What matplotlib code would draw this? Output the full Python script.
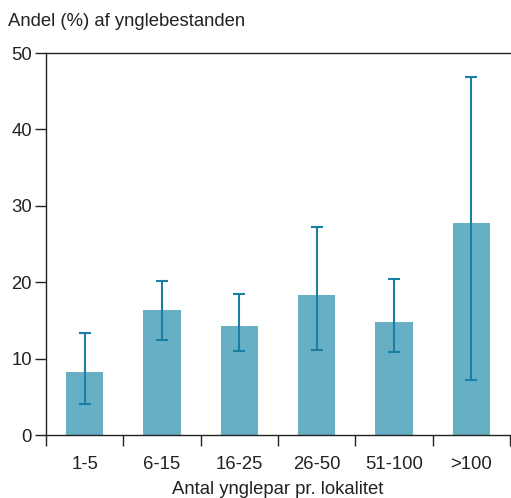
import matplotlib
matplotlib.use("Agg")
import matplotlib.pyplot as plt
import numpy as np

plt.rcParams['font.family'] = ['Liberation Sans', 'DejaVu Sans']

# data
categories = ['1-5', '6-15', '16-25', '26-50', '51-100', '>100']
andel = [8.2, 16.4, 14.3, 18.3, 14.8, 27.7]
err_high = [13.3, 20.2, 18.4, 27.2, 20.4, 46.9]
err_low = [4.0, 12.4, 11.0, 11.1, 10.8, 7.2]

bar_color = '#67afc4'
err_color = '#1a80a3'
axis_color = '#222222'
fs = 13.3

fig = plt.figure(figsize=(5.11, 4.98), dpi=100)
ax = fig.add_axes([0.09, 0.1265, 0.908, 0.767])

x = np.arange(len(categories))
ax.bar(x, andel, width=0.48, color=bar_color, zorder=2)
yerr = [np.array(andel) - np.array(err_low), np.array(err_high) - np.array(andel)]
ax.errorbar(x, andel, yerr=yerr, fmt='none', ecolor=err_color, elinewidth=1.5,
            capsize=4.2, capthick=1.5, zorder=3)

ax.set_xlim(-0.5, len(categories) - 0.5)
ax.set_ylim(0, 50)
ax.set_yticks([0, 10, 20, 30, 40, 50])

# boundary ticks as major, labels on minor ticks at bar centres
ax.set_xticks(np.arange(len(categories) + 1) - 0.5)
ax.set_xticklabels([])
ax.set_xticks(x, minor=True)
ax.set_xticklabels(categories, minor=True)
ax.tick_params(axis='x', which='major', direction='out', length=8, width=1, color=axis_color)
ax.tick_params(axis='x', which='minor', length=0, pad=15, labelsize=fs, labelcolor='#222222')
ax.tick_params(axis='y', direction='out', length=8, width=1, color=axis_color,
               labelsize=fs, labelcolor='#222222', pad=2)

for s in ['left', 'bottom', 'top']:
    ax.spines[s].set_color(axis_color)
    ax.spines[s].set_linewidth(1)
ax.spines['right'].set_visible(False)

fig.text(0.016, 0.957, 'Andel (%) af ynglebestanden', fontsize=fs, color='#222222',
         ha='left', va='center')
ax.set_xlabel('Antal ynglepar pr. lokalitet', fontsize=fs, color='#222222', labelpad=6)

fig.savefig('out.png', dpi=100)
